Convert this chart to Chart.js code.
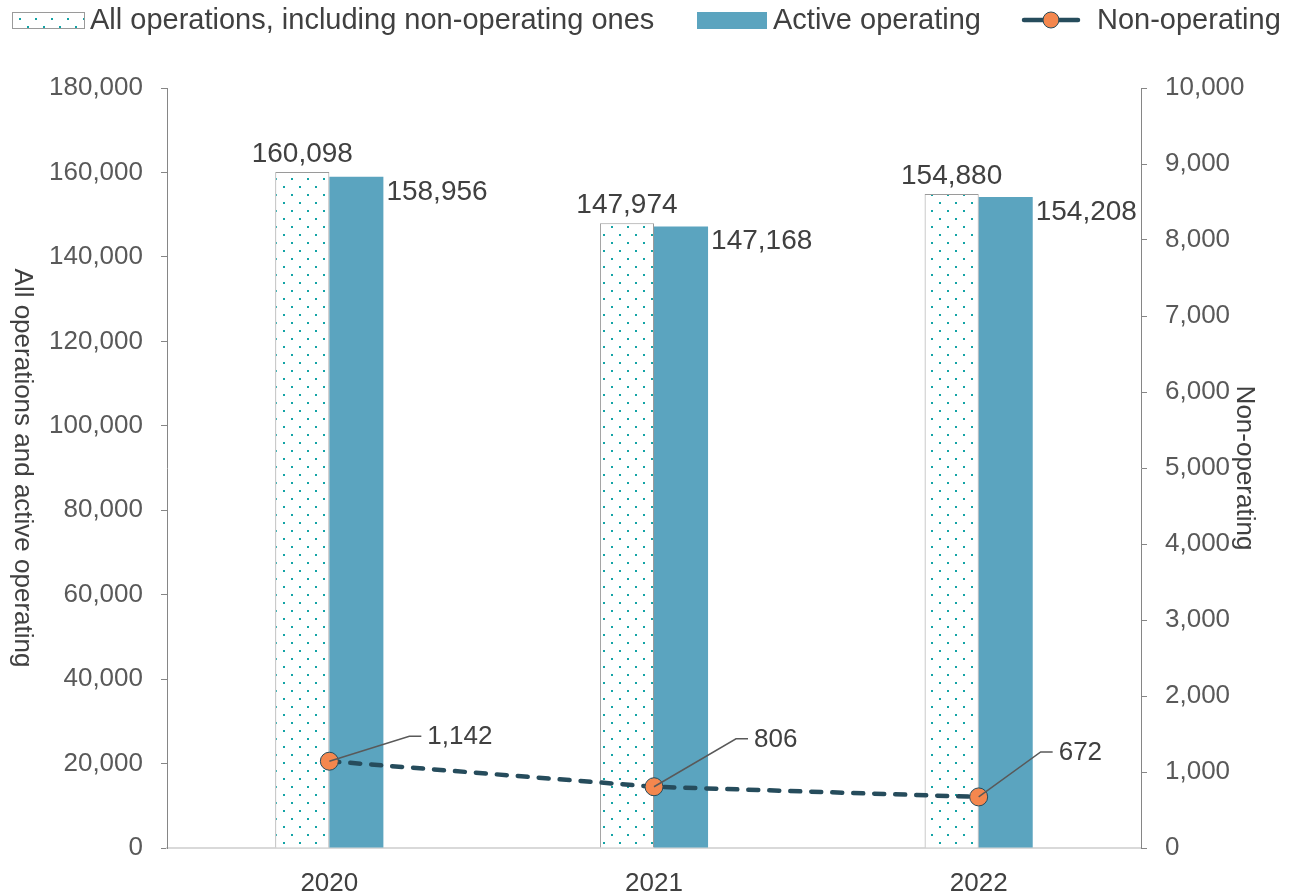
<!DOCTYPE html>
<html>
<head>
<meta charset="utf-8">
<script src="https://cdn.jsdelivr.net/npm/chart.js@4"></script>
<style>
  html, body { margin: 0; padding: 0; background: #fff; }
  #wrap { width: 1297px; height: 895px; position: relative; }
</style>
</head>
<body>
<div id="wrap"><canvas id="chart"></canvas></div>
<script>
// operations by year
const YEARS = ["2020", "2021", "2022"];
const ALL_OPS = [160098, 147974, 154880];
const ACTIVE_OPS = [158956, 147168, 154208];
const NON_OPS = [1142, 806, 672];
const LEFT_TICKS = { min: 0, max: 180000, step: 20000 };
const RIGHT_TICKS = { min: 0, max: 10000, step: 1000 };

const TEAL_DOT = "#14a4a6";
const ACTIVE = "#5ba4bf";
const LINE = "#264c5c";
const MARKER = "#f4874e";
const TEXT = "#404040";
const TICK = "#595959";
const FONT = "'Liberation Sans', Arial, sans-serif";

// label offsets for the leader lines (dx, dy from point)
const LEADER = [[80, -25], [82, -48], [62, -45]];

function fmt(v) { return Number(v).toLocaleString("en-US"); }

function dotPattern() {
  const c = document.createElement("canvas");
  c.width = 16; c.height = 16;
  const g = c.getContext("2d");
  g.fillStyle = "#fff";
  g.fillRect(0, 0, 16, 16);
  g.fillStyle = TEAL_DOT;
  g.fillRect(3, 2, 2, 2);
  g.fillRect(11, 10, 2, 2);
  return g.createPattern(c, "repeat");
}
const DOTS = dotPattern();

const labelsPlugin = {
  id: "labels",
  afterDatasetsDraw(chart) {
    const ctx = chart.ctx;
    ctx.save();
    ctx.fillStyle = TEXT;
    ctx.font = `28px ${FONT}`;
    // dotted bar values above
    chart.getDatasetMeta(0).data.forEach((bar, i) => {
      ctx.textAlign = "center";
      ctx.textBaseline = "bottom";
      ctx.fillText(fmt(ALL_OPS[i]), bar.x, bar.y - 4);
    });
    // active values to the right
    chart.getDatasetMeta(1).data.forEach((bar, i) => {
      ctx.textAlign = "left";
      ctx.textBaseline = "top";
      ctx.fillText(fmt(ACTIVE_OPS[i]), bar.x + bar.width / 2 + 3, bar.y + 1);
    });
    // non-operating with leader lines
    ctx.font = `26px ${FONT}`;
    chart.getDatasetMeta(2).data.forEach((pt, i) => {
      const [dx, dy] = LEADER[i];
      const ex = pt.x + dx, ey = pt.y + dy;
      ctx.strokeStyle = "#595959";
      ctx.lineWidth = 1.5;
      ctx.beginPath();
      ctx.moveTo(pt.x, pt.y);
      ctx.lineTo(ex, ey);
      ctx.lineTo(ex + 12, ey);
      ctx.stroke();
      ctx.textAlign = "left";
      ctx.textBaseline = "middle";
      ctx.fillText(fmt(NON_OPS[i]), ex + 18, ey + 1);
    });
    ctx.restore();
  },
  afterDraw(chart) {
    const ctx = chart.ctx;
    const area = chart.chartArea;
    ctx.save();
    ctx.fillStyle = TEXT;
    // axis titles, both read top to bottom
    ctx.font = `26px ${FONT}`;
    ctx.textAlign = "center";
    ctx.textBaseline = "middle";
    const cy = (area.top + area.bottom) / 2;
    ctx.save();
    ctx.translate(22, cy);
    ctx.rotate(Math.PI / 2);
    ctx.fillText("All operations and active operating", 0, 0);
    ctx.restore();
    ctx.save();
    ctx.translate(1244, cy);
    ctx.rotate(Math.PI / 2);
    ctx.fillText("Non-operating", 0, 0);
    ctx.restore();

    // legend
    ctx.font = `29px ${FONT}`;
    ctx.textAlign = "left";
    ctx.textBaseline = "middle";
    const ly = 20;
    ctx.fillStyle = DOTS;
    ctx.fillRect(12, 12, 73, 17);
    ctx.strokeStyle = "#9a9a9a";
    ctx.lineWidth = 1;
    ctx.strokeRect(12.5, 12.5, 72, 16);
    ctx.fillStyle = TEXT;
    ctx.fillText(chart.data.datasets[0].label, 90, ly + 1);

    ctx.fillStyle = ACTIVE;
    ctx.fillRect(697, 12, 70, 17);
    ctx.fillStyle = TEXT;
    ctx.fillText(chart.data.datasets[1].label, 773, ly + 1);

    ctx.strokeStyle = LINE;
    ctx.lineWidth = 4.5;
    ctx.lineCap = "round";
    ctx.beginPath();
    ctx.moveTo(1024, ly);
    ctx.lineTo(1078, ly);
    ctx.stroke();
    ctx.beginPath();
    ctx.arc(1051, ly, 8, 0, Math.PI * 2);
    ctx.fillStyle = MARKER;
    ctx.fill();
    ctx.lineWidth = 1;
    ctx.stroke();
    ctx.fillStyle = TEXT;
    ctx.fillText(chart.data.datasets[2].label, 1097, ly + 1);
    ctx.restore();
  }
};

new Chart(document.getElementById("chart"), {
  data: {
    labels: YEARS,
    datasets: [
      {
        type: "bar",
        label: "All operations, including non-operating ones",
        data: ALL_OPS,
        yAxisID: "y",
        backgroundColor: DOTS,
        borderColor: "#9a9a9a",
        borderWidth: 1,
        barPercentage: 1,
        categoryPercentage: 0.333,
        order: 1,
      },
      {
        type: "bar",
        label: "Active operating",
        data: ACTIVE_OPS,
        yAxisID: "y",
        backgroundColor: ACTIVE,
        borderWidth: 0,
        barPercentage: 1,
        categoryPercentage: 0.333,
        order: 2,
      },
      {
        type: "line",
        label: "Non-operating",
        data: NON_OPS,
        yAxisID: "y1",
        borderColor: LINE,
        borderWidth: 4.5,
        borderDash: [10, 11],
        borderCapStyle: "round",
        pointRadius: 9,
        pointBackgroundColor: MARKER,
        pointBorderColor: LINE,
        pointBorderWidth: 1,
        tension: 0,
        order: 0,
      },
    ],
  },
  options: {
    responsive: true,
    maintainAspectRatio: false,
    animation: false,
    layout: { padding: { top: 88, left: 0, right: 0, bottom: 0 } },
    plugins: {
      legend: { display: false },
      tooltip: { enabled: false },
    },
    scales: {
      x: {
        grid: { display: false },
        border: { display: true, color: "#d9d9d9", width: 2 },
        ticks: { color: TEXT, font: { family: FONT, size: 26 }, padding: 12 },
        afterFit: (s) => { s.height = 47; },
      },
      y: {
        position: "left",
        min: LEFT_TICKS.min,
        max: LEFT_TICKS.max,
        grid: { drawOnChartArea: false, drawTicks: true, tickLength: 6, color: "#868686" },
        border: { display: true, color: "#868686", width: 1 },
        ticks: { stepSize: LEFT_TICKS.step, color: TICK, padding: 18, font: { family: FONT, size: 26 }, callback: (v) => fmt(v) },
        afterFit: (s) => { s.width = 167; },
      },
      y1: {
        position: "right",
        min: RIGHT_TICKS.min,
        max: RIGHT_TICKS.max,
        grid: { drawOnChartArea: false, drawTicks: true, tickLength: 6, color: "#868686" },
        border: { display: true, color: "#868686", width: 1 },
        ticks: { stepSize: RIGHT_TICKS.step, color: TICK, padding: 18, font: { family: FONT, size: 26 }, callback: (v) => fmt(v) },
        afterFit: (s) => { s.width = 156; },
      },
    },
  },
  plugins: [labelsPlugin],
});
</script>
</body>
</html>
